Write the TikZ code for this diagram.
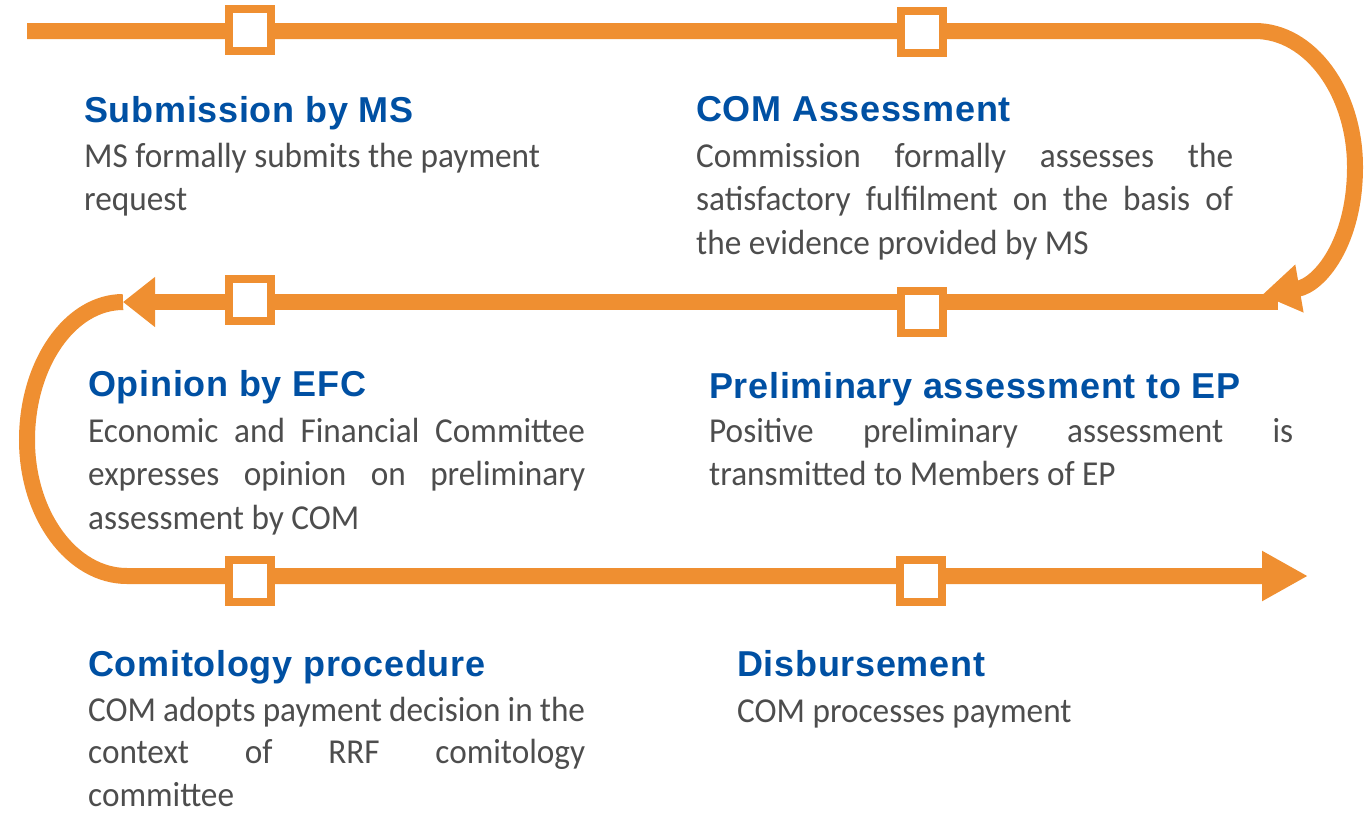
\documentclass[tikz,border=0pt]{standalone}
\usepackage{fontspec}
\usetikzlibrary{arrows.meta}
\newfontfamily\headfont[LetterSpace=2]{Liberation Sans}
\newfontfamily\bodyfont[FakeStretch=0.95]{Carlito}
\definecolor{flow}{HTML}{EF8F31}
\definecolor{headblue}{HTML}{0050A3}
\definecolor{bodygray}{HTML}{4D4D4D}
% a line spread to the full column width
\newcommand{\jline}[2]{\makebox[#1][s]{#2}}
\begin{document}
\begin{tikzpicture}[x=1pt,y=-1pt,
  flow/.style={draw=flow, line width=16pt},
  milestone/.style={draw=flow, fill=white, line width=8pt, minimum size=42pt, inner sep=0pt},
  head/.style={anchor=base west, inner sep=0pt, text=headblue,
    font=\headfont\bfseries\fontsize{36}{40}\selectfont},
  body/.style={anchor=north west, inner sep=0pt, align=left, text=bodygray,
    font=\bodyfont\fontsize{35}{43.5}\selectfont}]
\useasboundingbox (0,0) rectangle (1371,815);

% route of the process
\coordinate (t0) at (27,31);
\coordinate (t1) at (1255,31);
\coordinate (rr) at (1355,167);
\coordinate (tipR) at (1262,295);
\coordinate (m0) at (1278,302);
\coordinate (m1) at (123,302);
\coordinate (ll) at (27,440);
\coordinate (b0) at (127,576);
\coordinate (b1) at (1308,576);

\draw[flow, -{Triangle[length=38pt,width=46pt]}]
  (t0) -- (t1) .. controls (1310,31) and (1355,92) .. (rr)
  .. controls (1355,242) and (1320,285) .. (tipR);
\draw[flow, -{Triangle[length=32pt,width=48pt]}] (m0) -- (m1);
\draw[flow, -{Triangle[length=46pt,width=47pt]}]
  (m1) .. controls (70,302) and (27,364) .. (ll)
  .. controls (27,515) and (72,576) .. (b0) -- (b1);

% milestones on the route
\node[milestone] (s1) at (250,30) {};
\node[milestone] (s2) at (922,32) {};
\node[milestone] (s3) at (250,300) {};
\node[milestone] (s4) at (922,312) {};
\node[milestone] (s5) at (250,581) {};
\node[milestone] (s6) at (921,581) {};

% step descriptions
\node[head] (h1) at (84,122) {Submission by MS};
\node[body] (d1) at (84,137) {\rule{0pt}{30pt}MS formally submits the payment\\request};

\node[head] (h2) at (696,121) {COM Assessment};
\node[body] (d2) at (696,137) {\rule{0pt}{30pt}\jline{537pt}{Commission formally assesses the}\\
  \jline{537pt}{satisfactory fulfilment on the basis of}\\
  the evidence provided by MS};

\node[head] (h3) at (88,396) {Opinion by EFC};
\node[body] (d3) at (88,412) {\rule{0pt}{30pt}\jline{497pt}{Economic and Financial Committee}\\
  \jline{497pt}{expresses opinion on preliminary}\\
  assessment by COM};

\node[head] (h4) at (709,398) {Preliminary assessment to EP};
\node[body] (d4) at (709,412) {\rule{0pt}{30pt}\jline{584pt}{Positive preliminary assessment is}\\
  transmitted to Members of EP};

\node[head] (h5) at (88,676) {Comitology procedure};
\node[body, font=\bodyfont\fontsize{35}{42.5}\selectfont] (d5) at (88,691)
  {\rule{0pt}{30pt}\jline{497pt}{COM adopts payment decision in the}\\
  \jline{497pt}{context of RRF comitology}\\
  committee};

\node[head] (h6) at (737,676) {Disbursement};
\node[body] (d6) at (737,692) {\rule{0pt}{30pt}COM processes payment};
\end{tikzpicture}
\end{document}
